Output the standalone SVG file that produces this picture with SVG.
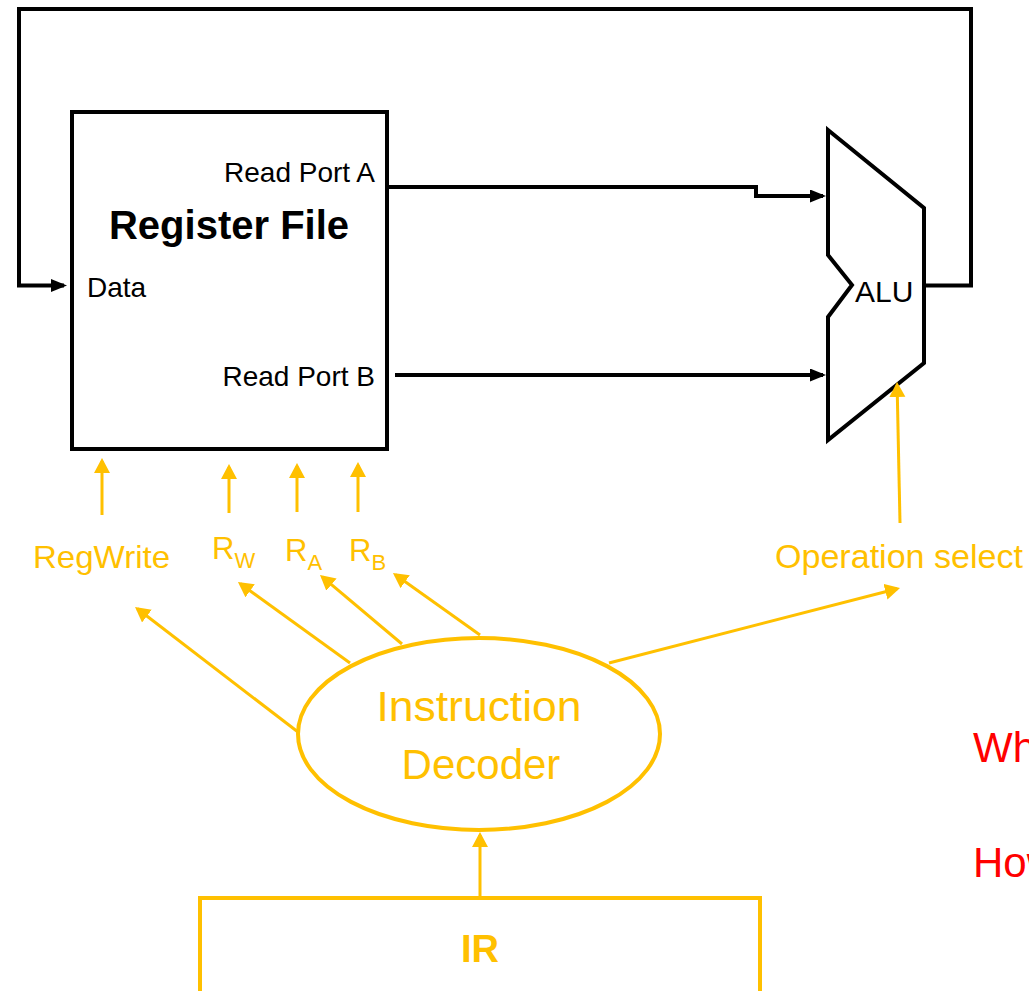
<svg xmlns="http://www.w3.org/2000/svg" width="1029" height="991" viewBox="0 0 1029 991">
<style>
.blk{fill:none;stroke:#000;stroke-width:4}
.org{fill:none;stroke:#FFC000;stroke-width:3}
.t{font-family:"Liberation Sans",Arial,sans-serif}
.tb{fill:#000}
.to{fill:#FFC000}
.tr{fill:#FF0000}
</style>
<defs>
<marker id="ab" markerUnits="userSpaceOnUse" markerWidth="17" markerHeight="14" refX="13" refY="6.5" orient="auto">
<path d="M0,0 L16,6.5 L0,13 z" fill="#000"/>
</marker>
<marker id="ao" markerUnits="userSpaceOnUse" markerWidth="17" markerHeight="17" refX="12" refY="8" orient="auto">
<path d="M0,0 L15,8 L0,16 z" fill="#FFC000"/>
</marker>
</defs>
<rect width="1029" height="991" fill="#fff"/>

<g id="register-file">
<rect x="72" y="112" width="315" height="337" fill="#fff" stroke="#000" stroke-width="4"/>
<text class="t tb" x="229" y="239" font-size="40" font-weight="bold" text-anchor="middle">Register File</text>
<text class="t tb" x="375" y="182" font-size="28" text-anchor="end">Read Port A</text>
<text class="t tb" x="375" y="386" font-size="28" text-anchor="end">Read Port B</text>
<text class="t tb" x="87" y="297" font-size="28">Data</text>
</g>

<g id="alu">
<polygon points="828,130 924,208 924,363 828,440 828,317 852,285 828,255" fill="#fff" stroke="#000" stroke-width="4"/>
<text class="t tb" x="855" y="302" font-size="30">ALU</text>
</g>

<g id="instruction-decoder">
<ellipse cx="479" cy="734" rx="181" ry="96" fill="#fff" stroke="#FFC000" stroke-width="4"/>
<text class="t to" x="479" y="721" font-size="42" text-anchor="middle" textLength="205" lengthAdjust="spacingAndGlyphs">Instruction</text>
<text class="t to" x="481" y="779" font-size="42" text-anchor="middle">Decoder</text>
</g>

<g id="ir">
<rect x="200" y="898" width="560" height="120" fill="#fff" stroke="#FFC000" stroke-width="4"/>
<text class="t to" x="480" y="962" font-size="38" font-weight="bold" text-anchor="middle">IR</text>
</g>

<g id="labels">
<text class="t to" x="33" y="568" font-size="32" textLength="137" lengthAdjust="spacingAndGlyphs">RegWrite</text>
<text class="t to" x="212" y="559" font-size="31">R<tspan font-size="22" dy="9">W</tspan></text>
<text class="t to" x="285" y="561" font-size="31">R<tspan font-size="22" dy="9">A</tspan></text>
<text class="t to" x="349" y="561" font-size="31">R<tspan font-size="22" dy="9">B</tspan></text>
<text class="t to" x="775" y="568" font-size="33" textLength="248" lengthAdjust="spacingAndGlyphs">Operation select</text>
<text class="t tr" x="973" y="762" font-size="42">Wh</text>
<text class="t tr" x="973" y="877" font-size="42">How</text>
</g>

<g id="connectors">
<path class="blk" d="M924,285.5 H971 V9 H19 V285.5 H64" marker-end="url(#ab)"/>
<path class="blk" d="M387,187 H756 V196 H823" marker-end="url(#ab)"/>
<path class="blk" d="M395,375 H823" marker-end="url(#ab)"/>

<line class="org" x1="102" y1="515" x2="102" y2="461" marker-end="url(#ao)"/>
<line class="org" x1="229" y1="513" x2="229" y2="467" marker-end="url(#ao)"/>
<line class="org" x1="297" y1="512" x2="297" y2="466" marker-end="url(#ao)"/>
<line class="org" x1="358" y1="512" x2="358" y2="465" marker-end="url(#ao)"/>
<line class="org" x1="900" y1="523" x2="897.1" y2="385" marker-end="url(#ao)"/>

<line class="org" x1="298" y1="732" x2="137.4" y2="608.8" marker-end="url(#ao)"/>
<line class="org" x1="350" y1="663" x2="240.4" y2="583.8" marker-end="url(#ao)"/>
<line class="org" x1="402" y1="644" x2="322.3" y2="576.9" marker-end="url(#ao)"/>
<line class="org" x1="480" y1="635" x2="395.4" y2="574.7" marker-end="url(#ao)"/>
<line class="org" x1="609" y1="663" x2="897.1" y2="588.7" marker-end="url(#ao)"/>
<line class="org" x1="480" y1="898" x2="480" y2="835" marker-end="url(#ao)"/>
</g>
</svg>
